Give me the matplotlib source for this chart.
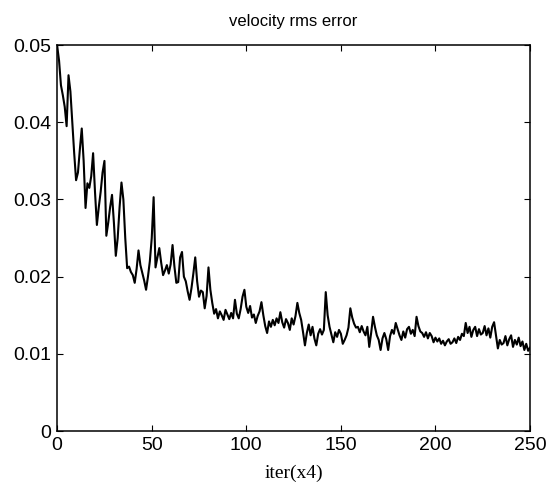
import matplotlib.pyplot as plt

# velocity rms error per iteration (units of 1e-3)
err_milli = [
    49.9, 48.0, 44.8, 43.5, 42.0, 39.5, 46.1, 44.0, 40.0, 36.0,
    32.5, 33.5, 36.5, 39.2, 35.0, 28.9, 32.1, 31.5, 33.0, 36.0,
    31.0, 26.7, 29.0, 31.0, 33.5, 35.0, 25.3, 27.0, 29.0, 30.6,
    27.0, 22.7, 25.0, 29.0, 32.2, 30.0, 25.0, 21.1, 21.3, 20.6,
    20.2, 19.2, 21.0, 23.4, 21.5, 20.5, 19.5, 18.3, 20.0, 22.0,
    25.0, 30.3, 21.2, 22.5, 23.7, 21.8, 20.2, 20.8, 21.5, 20.4,
    21.6, 24.1, 21.3, 19.2, 19.3, 22.5, 23.2, 20.0, 19.4, 18.1,
    17.0, 18.5, 20.4, 22.5, 19.4, 17.4, 18.2, 18.0, 15.9, 17.5,
    21.2, 18.3, 16.6, 15.2, 15.8, 14.6, 15.5, 15.0, 14.4, 15.7,
    15.1, 14.5, 15.3, 14.6, 17.0, 15.2, 14.6, 15.8, 17.4, 18.3,
    16.1, 15.3, 16.2, 14.7, 15.1, 14.0, 14.9, 15.5, 16.7, 15.0,
    13.6, 12.7, 14.2, 13.5, 14.4, 13.7, 14.6, 14.0, 15.4, 14.1,
    13.4, 14.5, 14.0, 13.1, 14.6, 13.8, 14.9, 16.6, 15.3, 14.4,
    12.8, 11.1, 12.7, 13.8, 12.4, 13.5, 12.0, 11.1, 12.6, 13.2,
    12.5, 13.1, 18.0, 15.0, 13.5, 12.5, 11.5, 12.8, 12.2, 13.1,
    12.6, 11.3, 11.8, 12.4, 13.4, 15.9, 14.7, 13.9, 13.4, 13.5,
    12.8, 13.6, 12.9, 12.4, 13.5, 10.9, 12.7, 14.8, 13.5, 12.4,
    11.8, 10.5, 12.0, 12.7, 11.9, 10.5, 12.3, 13.1, 12.6, 14.0,
    13.2, 12.4, 11.8, 12.9, 12.1, 13.2, 13.5, 12.6, 13.1, 12.3,
    14.8, 13.6, 12.9, 12.7, 12.2, 12.8, 12.0, 12.7, 12.3, 11.5,
    12.1, 11.6, 12.0, 11.3, 11.7, 11.1, 11.6, 11.9, 11.3, 11.5,
    12.0, 11.4, 12.2, 11.8, 12.6, 12.3, 14.0, 12.7, 13.5, 12.2,
    13.1, 13.5, 12.3, 13.2, 12.5, 12.7, 13.6, 12.4, 13.3, 12.1,
    13.5, 14.1, 12.4, 10.7, 11.8, 11.2, 11.4, 12.3, 11.1, 11.9,
    12.4, 10.9, 11.8, 11.2, 12.1, 11.0, 11.6, 10.5, 11.3, 10.4,
    10.8,
]
iters = list(range(len(err_milli)))
err = [v / 1000 for v in err_milli]

x_ticks = [0, 50, 100, 150, 200, 250]
y_ticks = [0, 0.01, 0.02, 0.03, 0.04, 0.05]
y_labels = ["0", "0.01", "0.02", "0.03", "0.04", "0.05"]

fig = plt.figure(figsize=(5.55, 4.96), dpi=100)
ax = fig.add_axes([0.103, 0.131, 0.852, 0.778])
ax.plot(iters, err, color="black", linewidth=1.5)

ax.set_xlim(0, 250)
ax.set_ylim(0, 0.05)
ax.set_xticks(x_ticks)
ax.set_yticks(y_ticks)
ax.set_yticklabels(y_labels)
ax.tick_params(direction="in", length=4, top=True, right=True,
               labelsize=14, pad=4)
for lbl in ax.get_xticklabels() + ax.get_yticklabels():
    lbl.set_fontfamily("Liberation Sans")
for s in ax.spines.values():
    s.set_linewidth(1.1)

ax.set_title("velocity rms error", fontsize=12, family="Liberation Sans", pad=14)
ax.set_xlabel("iter(x4)", fontsize=14, family="Liberation Serif", labelpad=8)

fig.savefig("out.png", dpi=100)
